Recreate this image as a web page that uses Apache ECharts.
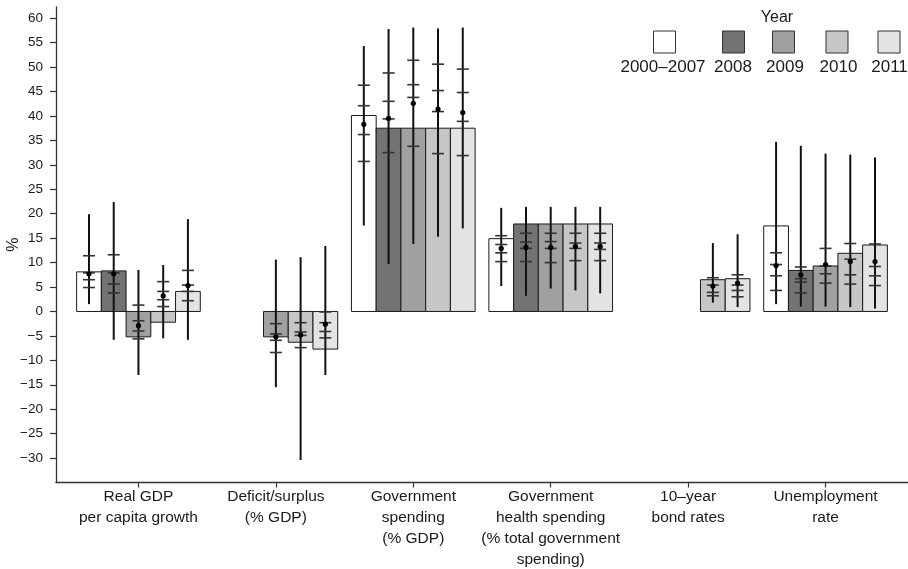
<!DOCTYPE html>
<html>
<head>
<meta charset="utf-8">
<script src="https://cdn.jsdelivr.net/npm/echarts@6/dist/echarts.min.js"></script>
<style>html,body{margin:0;padding:0;background:#fff}#chart{width:908px;height:569px}</style>
</head>
<body>
<div id="chart"></div>
<script>
// ---------- DATA ----------
const categories = [
  "Real GDP\nper capita growth",
  "Deficit/surplus\n(% GDP)",
  "Government\nspending\n(% GDP)",
  "Government\nhealth spending\n(% total government\nspending)",
  "10–year\nbond rates",
  "Unemployment\nrate"
];
const years = ["2000–2007", "2008", "2009", "2010", "2011"];
const yTicks = [-30,-25,-20,-15,-10,-5,0,5,10,15,20,25,30,35,40,45,50,55,60];

// bar heights, one row per year, one column per category (null = not shown)
const barValues = [
  [8.1, null, 40.1, 14.9, null, 17.5],
  [8.3, null, 37.5, 17.9, null, 8.4],
  [-5.2, -5.2, 37.5, 17.9, null, 9.3],
  [-2.2, -6.3, 37.5, 17.9, 6.5, 11.9],
  [4.1, -7.7, 37.5, 17.9, 6.7, 13.6]
];
// dot (central value)
const dotValues = [
  [7.7, null, 38.3, 12.9, null, 9.4],
  [7.7, null, 39.5, 13.1, null, 7.5],
  [-2.9, -5.2, 42.6, 13.1, null, 9.6],
  [3.2, -4.8, 41.4, 13.3, 5.2, 10.2],
  [5.3, -2.6, 40.7, 13.3, 5.8, 10.2]
];
// vertical line low and high ends
const lowValues = [
  [1.5, null, 17.6, 5.2, null, 1.5],
  [-5.8, null, 9.7, 3.2, null, 1.0],
  [-13.0, -15.5, 13.8, 4.7, null, 1.0],
  [-5.5, -30.4, 15.3, 4.3, 1.8, 0.9],
  [-5.8, -13.0, 17.0, 3.7, 0.9, 0.6]
];
const highValues = [
  [19.9, null, 54.3, 21.2, null, 34.7],
  [22.4, null, 57.8, 21.4, null, 33.9],
  [8.5, 10.6, 58.1, 21.4, null, 32.3],
  [9.5, 11.1, 57.9, 21.4, 14.0, 32.1],
  [18.9, 13.4, 58.1, 21.4, 15.8, 31.5]
];
// horizontal tick marks on each line (four per line)
const tickA = [
  [11.4, null, 46.3, 15.5, null, 12.0],
  [11.6, null, 48.8, 16.0, null, 9.1],
  [1.3, -2.5, 51.4, 16.0, null, 12.9],
  [6.1, -2.3, 50.6, 16.0, 6.9, 13.9],
  [8.4, -0.1, 49.6, 16.0, 7.5, 13.8]
];
const tickB = [
  [7.9, null, 42.1, 13.7, null, 9.6],
  [7.9, null, 43.0, 14.2, null, 6.7],
  [-1.9, -4.6, 46.4, 14.3, null, 9.3],
  [4.1, -4.2, 45.2, 14.0, 5.4, 10.7],
  [5.4, -2.3, 44.8, 14.0, 5.4, 9.2]
];
const tickC = [
  [6.5, null, 36.2, 12.0, null, 7.3],
  [5.6, null, 39.4, 12.9, null, 6.0],
  [-4.0, -5.9, 43.8, 12.9, null, 7.7],
  [2.4, -4.9, 40.9, 12.9, 3.9, 7.5],
  [4.1, -4.1, 38.9, 12.7, 4.3, 7.3]
];
const tickD = [
  [4.9, null, 30.7, 10.2, null, 4.3],
  [3.8, null, 32.5, 10.2, null, 3.8],
  [-5.6, -8.4, 33.8, 10.0, null, 5.8],
  [1.0, -7.4, 32.3, 10.4, 3.2, 5.6],
  [2.2, -5.4, 31.9, 10.4, 3.0, 5.3]
];

// ---------- STYLE ----------
const fills = ["#FFFFFF", "#737373", "#A0A0A0", "#C6C6C6", "#E3E3E3"];
const DODGE = 0.18;

function hasFont(name) {
  const c = document.createElement('canvas').getContext('2d');
  const s = '2000–2007 Government health spending';
  c.font = '40px monospace';
  const a = c.measureText(s).width;
  c.font = '40px "' + name + '", monospace';
  const b = c.measureText(s).width;
  return Math.abs(a - b) > 1;
}
const NARROW = hasFont('Liberation Sans Narrow');
const FONT = NARROW ? '"Liberation Sans Narrow", "Liberation Sans", sans-serif' : '"Liberation Sans", sans-serif';
const FS_Y = NARROW ? 15.5 : 13.5;
const FS_X = NARROW ? 19 : 15.5;
const FS_LEG = NARROW ? 21 : 17;
const FS_TITLE = NARROW ? 19 : 16;

function makeRender(s) {
  return function (params, api) {
    const ci = api.value(0);
    const xc = ci + (s - 2) * DODGE;
    const w = api.size([DODGE, 0])[0];
    const p0 = api.coord([xc, 0]);
    const pb = api.coord([xc, api.value(1)]);
    const pd = api.coord([xc, api.value(2)]);
    const pl = api.coord([xc, api.value(3)]);
    const ph = api.coord([xc, api.value(4)]);
    const children = [];
    children.push({
      type: 'rect',
      shape: { x: p0[0] - w / 2, y: Math.min(p0[1], pb[1]), width: w, height: Math.abs(pb[1] - p0[1]) },
      style: { fill: fills[s], stroke: '#1a1a1a', lineWidth: 1 }
    });
    children.push({
      type: 'line',
      shape: { x1: pl[0], y1: pl[1], x2: ph[0], y2: ph[1] },
      style: { stroke: '#111', lineWidth: 2 }
    });
    for (let k = 5; k <= 8; k++) {
      const v = api.value(k);
      if (v == null || isNaN(v)) continue;
      const pt = api.coord([xc, v]);
      children.push({
        type: 'line',
        shape: { x1: pt[0] - 6, y1: pt[1], x2: pt[0] + 6, y2: pt[1] },
        style: { stroke: '#333', lineWidth: 1.6 }
      });
    }
    children.push({
      type: 'circle',
      shape: { cx: pd[0], cy: pd[1], r: 2.6 },
      style: { fill: '#000' }
    });
    return { type: 'group', children: children };
  };
}

const series = years.map(function (y, s) {
  const data = [];
  categories.forEach(function (c, i) {
    if (barValues[s][i] == null) return;
    data.push([i + 1, barValues[s][i], dotValues[s][i], lowValues[s][i], highValues[s][i],
      tickA[s][i], tickB[s][i], tickC[s][i], tickD[s][i]]);
  });
  return {
    type: 'custom',
    name: y,
    renderItem: makeRender(s),
    encode: { x: 0, y: [1, 3, 4] },
    data: data,
    clip: false,
    silent: true,
    animation: false
  };
});

// legend drawn as graphic elements: key squares above labels
const legendKeyCenters = [664.5, 733.5, 783.5, 837, 889];
const legendLabelCenters = [663, 733, 785, 838.5, 889.5];
const graphics = [{
  type: 'text', x: 777, y: 18,
  style: { text: 'Year', font: FS_TITLE + 'px ' + FONT, fill: '#1a1a1a', textAlign: 'center', textVerticalAlign: 'middle' }
}];
years.forEach(function (y, s) {
  graphics.push({
    type: 'rect',
    shape: { x: legendKeyCenters[s] - 11, y: 31, width: 22, height: 22 },
    style: { fill: fills[s], stroke: '#333', lineWidth: 1 }
  });
  graphics.push({
    type: 'text', x: legendLabelCenters[s], y: 67,
    style: { text: y, font: FS_LEG + 'px ' + FONT, fill: '#1a1a1a', textAlign: 'center', textVerticalAlign: 'middle' }
  });
});

const chart = echarts.init(document.getElementById('chart'), null, { renderer: 'canvas' });
chart.setOption({
  animation: false,
  backgroundColor: '#fff',
  grid: { left: 56, right: 0, top: 7, bottom: 86.5, containLabel: false, outerBoundsMode: 'none' },
  xAxis: {
    type: 'value', min: 0.4, max: 6.6,
    splitLine: { show: false },
    axisLine: { show: true, onZero: false, lineStyle: { color: '#333', width: 1.3 } },
    axisTick: { show: true, length: 5, customValues: [1, 2, 3, 4, 5, 6], lineStyle: { color: '#333', width: 1.2 } },
    axisLabel: {
      customValues: [1, 2, 3, 4, 5, 6],
      formatter: function (v) { return categories[Math.round(v) - 1]; },
      fontFamily: FONT, fontSize: FS_X, color: '#1a1a1a', lineHeight: 21, margin: 4, align: 'center'
    }
  },
  yAxis: {
    type: 'value', min: -35, max: 62.3,
    name: '%', nameLocation: 'middle', nameRotate: 90, nameGap: 34, nameMoveOverlap: false,
    nameTextStyle: { fontFamily: FONT, fontSize: FS_TITLE, color: '#1a1a1a' },
    splitLine: { show: false },
    axisLine: { show: true, onZero: false, lineStyle: { color: '#333', width: 1.3 } },
    axisTick: { show: true, length: 6, customValues: yTicks, lineStyle: { color: '#333', width: 1.2 } },
    axisLabel: {
      customValues: yTicks,
      formatter: function (v) { return String(v).replace('-', '\u2212'); },
      fontFamily: FONT, fontSize: FS_Y, color: '#1a1a1a', margin: 13
    }
  },
  graphic: graphics,
  series: series
});
</script>
</body>
</html>
